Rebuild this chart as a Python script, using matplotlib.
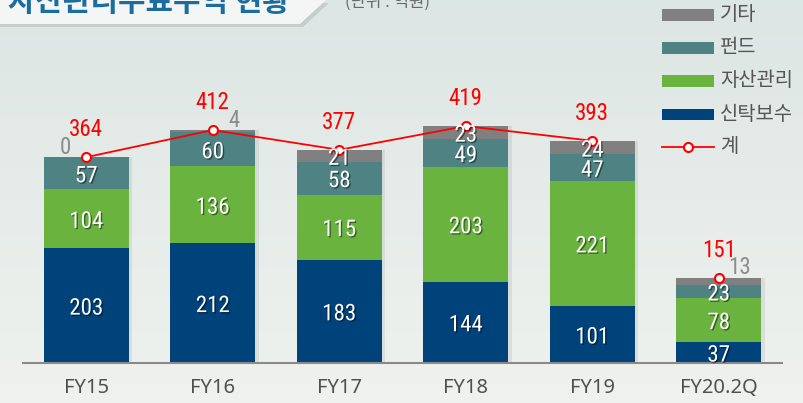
import matplotlib
matplotlib.use("Agg")
import matplotlib.pyplot as plt
import matplotlib.patheffects as pe
from matplotlib import font_manager
from matplotlib.patches import Polygon, Rectangle
from matplotlib.lines import Line2D
import numpy as np

# data (단위: 억원)
years = ["FY15", "FY16", "FY17", "FY18", "FY19", "FY20.2Q"]
trust_fee = [203, 212, 183, 144, 101, 37]     # 신탁보수
asset_mgmt = [104, 136, 115, 203, 221, 78]    # 자산관리
fund = [57, 60, 58, 49, 47, 23]               # 펀드
other = [0, 4, 21, 23, 24, 13]                # 기타
total = [364, 412, 377, 419, 393, 151]        # 계

series_names = ["신탁보수", "자산관리", "펀드", "기타"]
series_colors = ["#00427a", "#6bb33f", "#4e8283", "#808080"]
line_color = "#ff0000"

KR = ["Noto Sans CJK KR", "DejaVu Sans"]

# the numbers in the original use a tall condensed face; take the narrowest one installed
fonts = font_manager.fontManager.ttflist
names = {f.name for f in fonts}
NUM = None
for cand in ["Roboto Condensed", "Noto Sans ExtraCondensed", "Noto Sans Condensed",
             "Liberation Sans Narrow", "Open Sans Condensed", "DejaVu Sans Condensed"]:
    if cand in names:
        NUM = dict(family=cand)
        break
if NUM is None:
    for fam in ["Noto Sans", "Roboto", "Open Sans", "DejaVu Sans"]:
        if any(f.name == fam and str(f.stretch) in ("condensed", "extra-condensed", "semi-condensed")
               for f in fonts):
            NUM = dict(family=fam, stretch="condensed")
            break
if NUM is None:
    NUM = dict(family="Roboto")
NUM_SIZE = 16.5

W, H = 804, 403
fig = plt.figure(figsize=(W / 100, H / 100), dpi=100)


def fx(px):
    return px / W


def fy(py):
    return 1 - py / H


# background gradient
bg = fig.add_axes([0, 0, 1, 1], zorder=-10)
grad = np.linspace(0, 1, 256).reshape(-1, 1)
top = np.array([0.866, 0.902, 0.894])
bot = np.array([0.937, 0.949, 0.937])
img = top + (bot - top) * grad[..., None]
bg.imshow(img, aspect="auto", extent=[0, 1, 0, 1])
bg.axis("off")

# title box (cut at the top edge)
fig.add_artist(Polygon([(fx(0), fy(3)), (fx(329), fy(3)), (fx(303), fy(27)), (fx(0), fy(27))],
                       closed=True, transform=fig.transFigure, color="#9aa3a2", alpha=0.35, lw=0))
fig.add_artist(Polygon([(fx(0), fy(0)), (fx(326), fy(0)), (fx(300), fy(24)), (fx(0), fy(24))],
                       closed=True, transform=fig.transFigure, color="#f4f5f5", lw=0))
fig.text(fx(8), fy(11.5), "자산관리수료수익 현황", fontsize=21.5, fontweight="bold",
         color="#1b6d9f", va="baseline", family=KR)
fig.text(fx(345), fy(7), "(단위 : 억원)", fontsize=12, color="#6a6a6a", va="baseline", family=KR)

# main axes
ax = fig.add_axes([fx(23), fy(363), fx(782) - fx(23), 363 / H])
ax.set_facecolor("none")
x = np.arange(len(years))
width = 0.67

# soft shadow behind bars
ax.bar(x + 0.03, total, width, color="black", alpha=0.07, zorder=1)

bottom = np.zeros(len(years))
stack = [trust_fee, asset_mgmt, fund, other]
shadow = [pe.withSimplePatchShadow(offset=(1, -1), shadow_rgbFace="black", alpha=0.45)]
for vals, name, col in zip(stack, series_names, series_colors):
    vals = np.array(vals)
    ax.bar(x, vals, width, bottom=bottom, color=col, zorder=2)
    for i, v in enumerate(vals):
        if name == "기타" and v < 20:
            # small values are written beside the bar top
            dx = -15 if i == 0 else 15
            ax.annotate(str(v), (x[i], bottom[i] + v), xytext=(dx, 9), textcoords="offset points",
                        ha="center", va="center_baseline", color="#8c8c8c", fontsize=NUM_SIZE, **NUM)
        else:
            ax.text(x[i], bottom[i] + v / 2, str(v), ha="center", va="center_baseline",
                    color="white", fontsize=NUM_SIZE, zorder=6, path_effects=shadow, **NUM)
    bottom += vals

# total line (FY20.2Q is a half-year, not joined)
mk = dict(marker="o", ms=6.5, mfc="white", mec=line_color, mew=1.5)
ax.plot(x[:5], total[:5], color=line_color, lw=1.3, zorder=5, **mk)
ax.plot(x[5:], total[5:], ls="none", zorder=5, **mk)
for i, t in enumerate(total):
    ax.annotate(str(t), (x[i], t), xytext=(0, 15), textcoords="offset points",
                ha="center", va="baseline", color=line_color, fontsize=NUM_SIZE, **NUM)

ax.set_xlim(-0.5, 5.5)
ax.set_ylim(0, 642)
ax.set_xticks(x, years)
ax.set_yticks([])
ax.tick_params(axis="x", length=0, pad=11, labelsize=14.5, labelcolor="#505050")
for lab in ax.get_xticklabels():
    lab.set_family("Noto Sans")
for s in ["top", "left", "right"]:
    ax.spines[s].set_visible(False)
ax.spines["bottom"].set_color("#8a8a8a")
ax.spines["bottom"].set_linewidth(1.5)

# legend, drawn at the top right
leg_items = [("기타", series_colors[3]), ("펀드", series_colors[2]),
             ("자산관리", series_colors[1]), ("신탁보수", series_colors[0])]
rows = [15, 48, 81, 114]
for (lab, col), ry in zip(leg_items, rows):
    fig.add_artist(Rectangle((fx(662), fy(ry + 5.5)), fx(714) - fx(662), 11 / H,
                             transform=fig.transFigure, color=col, lw=0))
    fig.text(fx(720), fy(ry), lab, fontsize=14.3, color="#555555", va="center", family=KR)
fig.add_artist(Line2D([fx(662), fx(714)], [fy(147), fy(147)], transform=fig.transFigure,
                      color=line_color, lw=1.3))
fig.add_artist(Line2D([fx(688)], [fy(147)], transform=fig.transFigure, ls="none", **mk))
fig.text(fx(720), fy(147), "계", fontsize=14.3, color="#555555", va="center", family=KR)

fig.savefig("out.png", dpi=100)
